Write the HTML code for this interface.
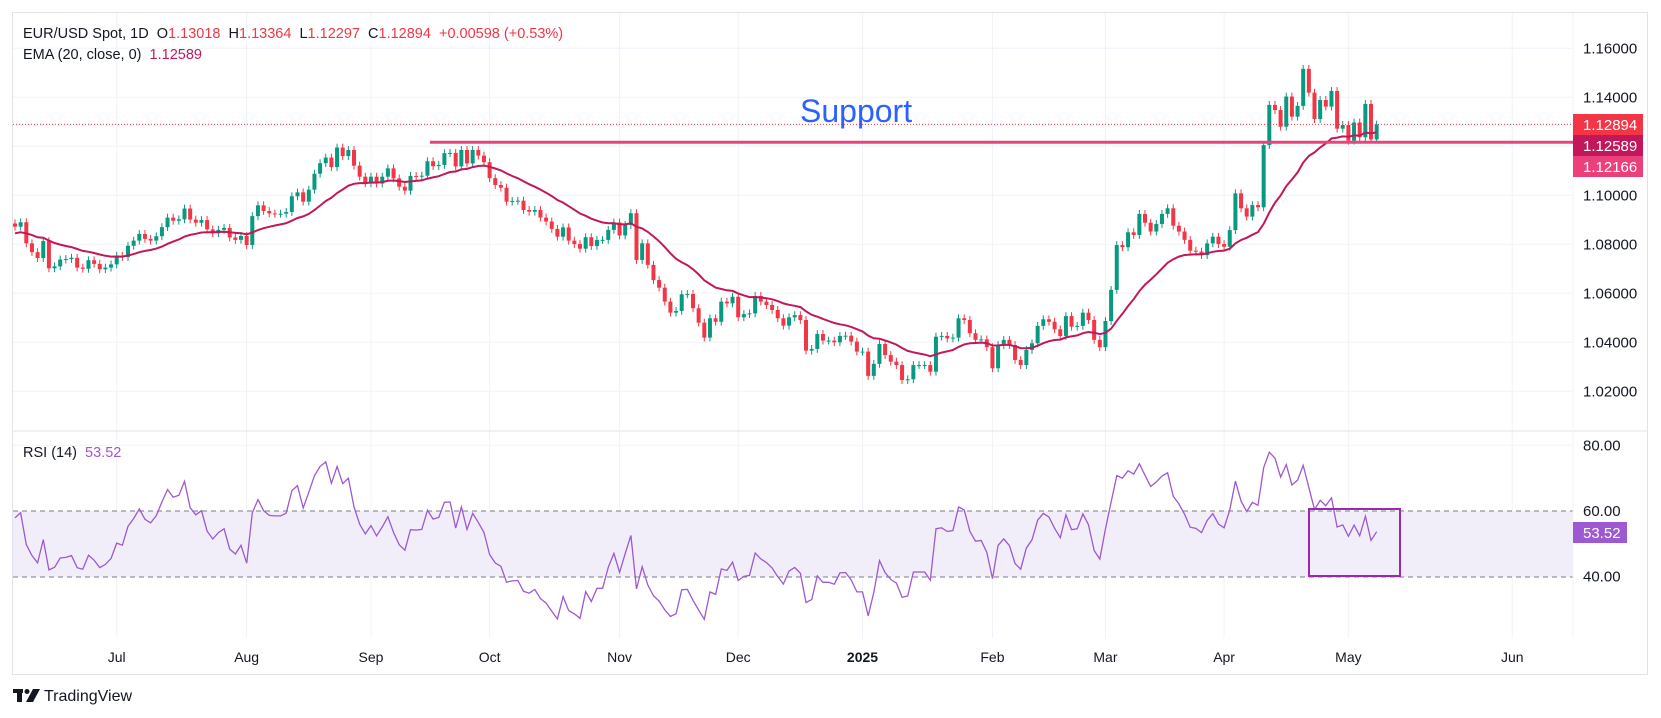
<!DOCTYPE html>
<html><head><meta charset="utf-8"><style>
html,body{margin:0;padding:0;background:#fff;}
svg{display:block;font-family:"Liberation Sans",sans-serif;}
.pre{white-space:pre;}
</style></head><body>
<svg id="chart" width="1661" height="718" viewBox="0 0 1661 718" xmlns="http://www.w3.org/2000/svg">
<rect x="0" y="0" width="1661" height="718" fill="#fff"/>
<rect x="12.5" y="12.5" width="1635" height="662" fill="none" stroke="#e0e3eb" stroke-width="1"/>
<g id="grid"></g>
<rect x="13" y="511" width="1560" height="66" fill="#f2eef9"/>
<line x1="13" y1="511" x2="1573" y2="511" stroke="#787b86" stroke-dasharray="5,4"/>
<line x1="13" y1="577" x2="1573" y2="577" stroke="#787b86" stroke-dasharray="5,4"/>
<line x1="13" y1="431" x2="1647" y2="431" stroke="#e0e3eb"/>
<line x1="1573" y1="13" x2="1573" y2="638" stroke="#f0f3fa"/>
<g id="candles"></g>
<polyline id="ema" fill="none" stroke="#c2185b" stroke-width="2"/>
<polyline id="rsi" fill="none" stroke="#9c59d1" stroke-width="1.3"/>
<line x1="13" y1="124.4" x2="1573" y2="124.4" stroke="#f23645" stroke-dasharray="1,2"/>
<line x1="430" y1="142.2" x2="1573" y2="142.2" stroke="#e8437a" stroke-width="3"/>
<text x="800" y="122" font-size="32" fill="#2962ff">Support</text>
<rect x="1309" y="509" width="91" height="67" fill="none" stroke="#9c27b0" stroke-width="2"/>
<g id="axes" font-size="14" fill="#131722"></g>
<rect x="1573" y="114" width="70" height="21" fill="#f23645"/>
<text x="1583" y="130" font-size="15" fill="#fff">1.12894</text>
<rect x="1573" y="135" width="70" height="21" fill="#c2185b"/>
<text x="1583" y="151" font-size="15" fill="#fff">1.12589</text>
<rect x="1573" y="156" width="70" height="21" fill="#ec407a"/>
<text x="1583" y="172" font-size="15" fill="#fff">1.12166</text>
<rect x="1573" y="522" width="54" height="21" fill="#9c59d1"/>
<text x="1583" y="538" font-size="15" fill="#fff">53.52</text>
<g font-size="14.5">
<text class="pre" x="23" y="38" fill="#131722">EUR/USD Spot, 1D  O<tspan fill="#f23645">1.13018</tspan>  H<tspan fill="#f23645">1.13364</tspan>  L<tspan fill="#f23645">1.12297</tspan>  C<tspan fill="#f23645">1.12894</tspan>  <tspan fill="#f23645">+0.00598 (+0.53%)</tspan></text>
<text class="pre" x="23" y="59" fill="#131722">EMA (20, close, 0)  <tspan fill="#c2185b">1.12589</tspan></text>
<text class="pre" x="23" y="457" fill="#131722">RSI (14)  <tspan fill="#9c59d1">53.52</tspan></text>
</g>
<g>
<rect x="13" y="689" width="10" height="4" fill="#131722"/><rect x="17" y="689" width="5" height="13" fill="#131722"/>
<circle cx="27" cy="691.5" r="2.5" fill="#131722"/><polygon points="33,689 40,689 33,702 26,702" fill="#131722"/>
<text x="44" y="701" font-size="16" fill="#131722">TradingView</text>
</g>
</svg>
<script>
const closes = [1.0872,1.0890,1.0804,1.0768,1.0744,1.0813,1.0702,1.0710,1.0738,1.0740,1.0745,1.0705,1.0700,1.0735,1.0720,1.0698,1.0705,1.0718,
1.0753,1.0748,1.0794,1.0815,1.0842,1.0822,1.0815,1.0833,1.0870,1.0909,1.0896,1.0902,1.0946,1.0901,1.0888,1.0899,1.0861,1.0845,1.0859,1.0867,1.0828,1.0818,1.0834,
1.0797,1.0915,1.0959,1.0936,1.0926,1.0925,1.0925,1.0932,1.0996,1.1012,1.0974,1.1023,1.1088,1.1131,1.1154,1.1115,1.1195,1.1160,1.1185,1.1121,1.1076,1.1049,
1.1076,1.1048,1.1076,1.1110,1.1069,1.1035,1.1019,1.1079,1.1078,1.1080,1.1139,1.1119,1.1124,1.1172,1.1173,
1.1118,1.1185,1.1130,1.1185,1.1162,1.1135,1.1070,1.1042,1.1031,1.0974,
1.0977,1.0978,1.0940,1.0933,1.0940,1.0909,1.0893,1.0863,1.0831,1.0869,
1.0815,1.0801,1.0782,1.0829,1.0793,1.0818,1.0818,1.0859,1.0889,1.0836,
1.0879,1.0927,1.0736,1.0804,1.0716,1.0654,1.0623,1.0566,1.0521,1.0528,
1.0596,1.0597,1.0539,1.0480,1.0419,1.0498,1.0484,1.0566,1.0559,1.0586,
1.0502,1.0515,1.0518,1.0589,1.0566,1.0552,1.0532,1.0498,1.0468,1.0502,
1.0511,1.0491,1.0366,1.0373,1.0434,1.0407,1.0407,1.0400,1.0426,1.0427,
1.0403,1.0362,1.0362,1.0263,1.0312,1.0393,1.0348,1.0321,1.0307,1.0246,
1.0249,1.0307,1.0307,1.0307,1.0280,1.0423,1.0426,1.0416,1.0419,1.0498,
1.0491,1.0437,1.0410,1.0412,1.0380,1.0294,1.0389,1.0410,1.0389,1.0328,
1.0307,1.0369,1.0396,1.0467,1.0494,1.0484,1.0453,1.0426,1.0507,1.0464,
1.0467,1.0521,1.0491,1.0410,1.0380,1.0487,1.0614,1.0797,1.0788,1.0849,
1.0838,1.0924,1.0888,1.0852,1.0883,1.0924,1.0947,1.0876,1.0852,1.0818,
1.0774,1.0770,1.0756,1.0804,1.0831,1.0801,1.0790,1.0858,1.1008,1.0947,
1.0913,1.0960,1.0951,1.1205,1.1369,1.1348,1.1280,1.1403,1.1321,1.1365,
1.1516,1.1419,1.1311,1.1389,1.1362,
1.1426,1.1272,1.1287,1.1223,1.1297,1.1237,1.1373,1.1228,1.1289];
const firstOpen = 1.0885;
const emaSeed = 1.0842;
const rsiSeedGain = 0.0022;
const rsiSeedLoss = 0.0015;
const priceTicks = [1.16,1.14,1.10,1.08,1.06,1.04,1.02];
const priceTickLabels = ["1.16000","1.14000","1.10000","1.08000","1.06000","1.04000","1.02000"];
const rsiTicks = [80,60,40];
const rsiTickLabels = ["80.00","60.00","40.00"];
const monthIdx = [18,41,63,84,107,128,150,173,193,214,236,265];
const monthLabels = ["Jul","Aug","Sep","Oct","Nov","Dec","2025","Feb","Mar","Apr","May","Jun"];

const NS="http://www.w3.org/2000/svg";
const xAt = i => 15 + i*5.65;
const yP = p => 48.3 + (1.16 - p)*2450;
const yR = r => 511 + (60 - r)*3.285;
function mk(tag, attrs, parent){const e=document.createElementNS(NS,tag);for(const k in attrs)e.setAttribute(k,attrs[k]);parent.appendChild(e);return e;}

const grid=document.getElementById('grid');
priceTicks.concat([1.12]).forEach(p=>{
  const l=mk('line',{x1:13,x2:1573,y1:yP(p),y2:yP(p),stroke:'#f0f3fa'},grid);
  
  
});
{const l=mk('line',{x1:13,x2:1573,y1:yR(80),y2:yR(80),stroke:'#f0f3fa'},grid);

}
monthIdx.forEach(i=>{
  const l=mk('line',{x1:xAt(i),x2:xAt(i),y1:13,y2:638,stroke:'#f0f3fa'},grid);
  
  
});

const cg=document.getElementById('candles');
let prev=firstOpen;
closes.forEach((c,i)=>{
  const o=prev; prev=c;
  const up=c>=o; const col=up?'#089981':'#f23645';
  const hi=Math.max(o,c)+0.0016, lo=Math.min(o,c)-0.0016;
  const x=xAt(i);
  const g=mk('g',{},cg);
  
  
  mk('line',{x1:x,x2:x,y1:yP(hi),y2:yP(lo),stroke:col,'stroke-width':1},g);
  const top=yP(Math.max(o,c)), h=Math.max(1,yP(Math.min(o,c))-top);
  mk('rect',{x:x-2,y:top,width:4,height:h,fill:col},g);
});

let ema=emaSeed; const k=2/21; const ep=[];
closes.forEach((c,i)=>{ema=c*k+ema*(1-k);ep.push(xAt(i).toFixed(1)+','+yP(ema).toFixed(1));});
document.getElementById('ema').setAttribute('points',ep.join(' '));

let ag=rsiSeedGain, al=rsiSeedLoss, pc=firstOpen; const rp=[];
closes.forEach((c,i)=>{const d=c-pc;pc=c;ag=(ag*13+Math.max(d,0))/14;al=(al*13+Math.max(-d,0))/14;
  const r=100-100/(1+ag/al);rp.push(xAt(i).toFixed(1)+','+yR(r).toFixed(1));});
document.getElementById('rsi').setAttribute('points',rp.join(' '));

const ax=document.getElementById('axes');
priceTicks.forEach((p,j)=>{const t=mk('text',{x:1583,y:yP(p)+5,'font-size':15},ax);t.textContent=priceTickLabels[j];
  
  });
rsiTicks.forEach((r,j)=>{const t=mk('text',{x:1583,y:yR(r)+5,'font-size':15},ax);t.textContent=rsiTickLabels[j];
  
  });
monthIdx.forEach((i,j)=>{const t=mk('text',{x:xAt(i),y:662,'text-anchor':'middle','font-weight':monthLabels[j]==='2025'?'bold':'normal'},ax);t.textContent=monthLabels[j];
  
  });
</script>
</body></html>
